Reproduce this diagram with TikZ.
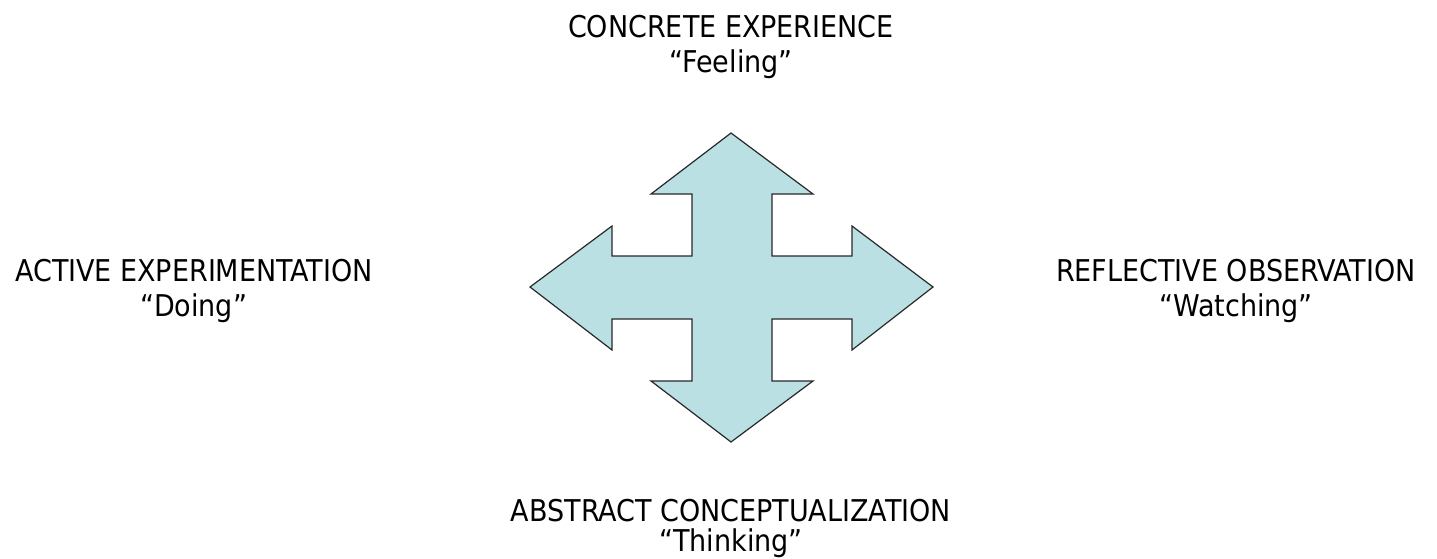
\documentclass[tikz,border=0pt]{standalone}
\usepackage{fontspec}
\setmainfont{DejaVu Sans Condensed}
\usetikzlibrary{positioning}
\definecolor{arrowfill}{RGB}{186,224,228}
\definecolor{arrowline}{RGB}{40,40,40}

\begin{document}
\begin{tikzpicture}[
        x=1pt, y=-1pt,
        label/.style={align=center, inner sep=0pt, font=\fontsize{30}{35.5}\selectfont},
        tightlabel/.style={label, font=\fontsize{30}{30}\selectfont},
        cross/.style={fill=arrowfill, draw=arrowline, line width=1.2pt, line join=miter}
        ]
        \useasboundingbox (0,0) rectangle (1437,559);
        % four-way arrow
        \draw[cross] (731,133) -- (813,194) -- (772,194) -- (772,256) -- (852,256) -- (852,226)
            -- (933,287) -- (852,350) -- (852,319) -- (772,319) -- (772,381) -- (813,381)
            -- (731,442) -- (651,381) -- (692,381) -- (692,319) -- (612,319) -- (612,350)
            -- (530,287) -- (612,226) -- (612,256) -- (692,256) -- (692,194) -- (651,194) -- cycle;
        % labels
        \node[label] (concrete) at (731,47) {CONCRETE EXPERIENCE\\``Feeling''};
        \node[label] (active) at (194,291) {ACTIVE EXPERIMENTATION\\``Doing''};
        \node[label] (reflective) at (1236,291) {REFLECTIVE OBSERVATION\\``Watching''};
        \node[tightlabel] (abstract) at (731,528) {ABSTRACT CONCEPTUALIZATION\\``Thinking''};
    \end{tikzpicture}
\end{document}
